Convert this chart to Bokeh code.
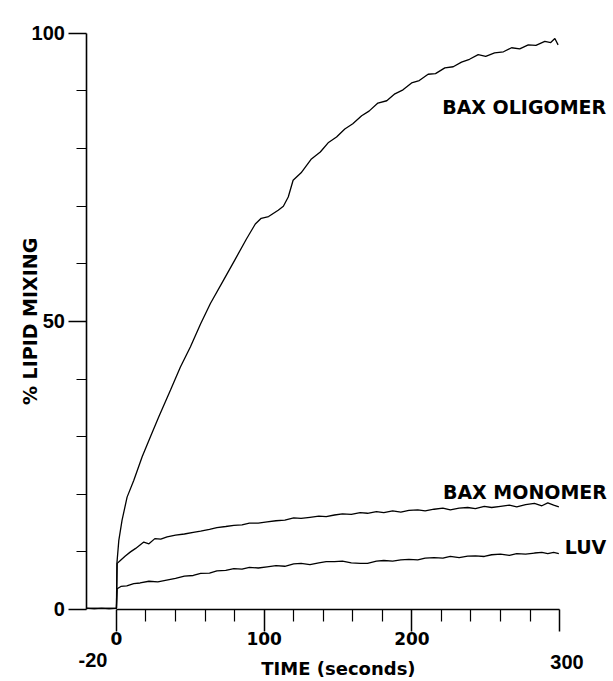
import math
from bokeh.plotting import figure
from bokeh.models import Range1d, FixedTicker, Label
from bokeh.embed import file_html
from bokeh.resources import INLINE

# ---------------- data ----------------
olig_t = [-20, -15, -10, -5, 0, 0.3, 1.6, 3.8, 7.2, 11.7, 17.4, 23, 28.6, 36.6, 43.3,
          50.1, 57, 63.6, 72.6, 80, 88, 94, 98, 103, 109.5, 113, 116.3, 119.6, 125,
          132, 138, 143.3, 149, 154.6, 160, 166, 171, 177, 183, 188.5, 194, 199.8,
          205, 211, 216, 222.3, 228, 233.6, 239, 244.9, 250, 256, 262, 267.5, 273,
          278.8, 284, 290, 294, 296.8, 299]
olig_y = [0.2, 0.1, 0.2, 0.1, 0.2, 8.0, 12.0, 15.5, 19.5, 22.4, 26.5, 30.0, 33.4, 38.1, 42.1,
          45.6, 49.6, 53.1, 57.2, 60.6, 64.3, 66.9, 67.9, 68.2, 69.3, 70.0, 71.6, 74.5, 75.8,
          78.2, 79.4, 81.0, 82.0, 83.4, 84.3, 85.7, 86.5, 87.9, 88.3, 89.5, 90.2, 91.4,
          91.8, 92.9, 93.0, 94.0, 94.2, 95.0, 95.5, 96.3, 96.0, 96.6, 96.8, 97.5, 97.3,
          98.0, 97.9, 98.6, 98.4, 99.1, 98.0]

mono_t = [-20, -10, 0, 0.5, 3, 6, 9.5, 13, 18.5, 22, 26, 30, 34.3, 40, 46, 52, 57, 63,
          68, 74, 79.5, 85, 90, 96, 102, 108, 114, 120, 125, 131, 137, 142, 147.6, 153,
          159, 165, 170, 176, 181, 187, 192.5, 198, 204, 209, 215, 221, 226, 232, 237.8,
          243, 249, 254, 260, 266, 271, 277, 283, 288, 292, 296, 299.5]
mono_y = [0.2, 0.2, 0.2, 8.0, 8.6, 9.3, 10.0, 10.6, 11.7, 11.4, 12.3, 12.2, 12.6, 12.9,
          13.1, 13.4, 13.6, 13.9, 14.2, 14.4, 14.6, 14.7, 15.0, 15.0, 15.2, 15.4, 15.5,
          15.9, 15.8, 16.0, 16.2, 16.1, 16.4, 16.6, 16.5, 16.8, 16.7, 17.0, 16.8, 17.1,
          16.9, 17.2, 17.3, 17.1, 17.4, 17.6, 17.3, 17.6, 17.7, 17.5, 17.9, 17.7, 17.9,
          18.1, 17.8, 18.2, 18.4, 18.0, 18.5, 18.1, 17.8]

luv_t = [-20, -10, 0, 0.5, 3, 7, 11.7, 16, 22, 28, 34, 40, 46, 52, 57, 63, 68, 74, 79.5,
         85, 90, 96, 102, 108, 114, 120, 125, 131, 137, 142, 147.6, 153, 159, 165, 170,
         176, 181, 187, 192.5, 198, 204, 209, 215, 221, 226, 232, 237.8, 243, 249, 254,
         260, 266, 271, 277, 283, 288, 292, 296, 299.5]
luv_y = [0.2, 0.2, 0.2, 3.6, 4.0, 4.1, 4.5, 4.6, 4.9, 4.8, 5.1, 5.4, 5.8, 5.9, 6.25, 6.3,
         6.7, 6.8, 7.1, 7.0, 7.3, 7.2, 7.4, 7.6, 7.5, 7.9, 8.0, 7.8, 8.1, 8.3, 8.3, 8.4,
         8.1, 8.0, 8.0, 8.4, 8.5, 8.4, 8.6, 8.7, 8.6, 8.9, 9.0, 8.9, 9.2, 9.0, 9.25, 9.3,
         9.2, 9.5, 9.6, 9.4, 9.7, 9.6, 9.8, 9.9, 9.7, 9.9, 9.7]

series_names = ["BAX OLIGOMER", "BAX MONOMER", "LUV"]

x_major = [0, 100, 200, 300]
x_major_text = ["0", "100", "200", ""]
x_minor = [20, 40, 60, 80, 120, 140, 160, 180, 220, 240, 260, 280]
x_end_labels = ["-20", "300"]
x_title = "TIME (seconds)"

y_major = [0, 50, 100]
y_major_text = ["0", "50", "100"]
y_minor = [10, 20, 30, 40, 60, 70, 80, 90]
y_title = "% LIPID MIXING"

# ---------------- figure ----------------
# The frame fills the whole canvas; the axes are pinned with fixed_location
# so that the free text around the plot is not clipped.
p = figure(width=613, height=681, title=None,
           x_range=Range1d(-78.5, 336.5), y_range=Range1d(-12.5, 105.7),
           output_backend="svg", toolbar_location=None,
           min_border_left=0, min_border_right=0,
           min_border_top=0, min_border_bottom=0)
p.grid.visible = False
p.outline_line_color = None
p.background_fill_color = "white"
p.border_fill_color = "white"

xa = p.xaxis[0]
xa.fixed_location = 0
xa.ticker = FixedTicker(ticks=x_major, minor_ticks=x_minor)
xa.bounds = (0, 300)
xa.major_label_overrides = {v: t for v, t in zip(x_major, x_major_text)}
xa.axis_line_width = 1.6
xa.axis_line_color = "black"
xa.major_tick_line_width = 1.5
xa.minor_tick_line_width = 1.2
xa.major_tick_line_color = "black"
xa.minor_tick_line_color = "black"
xa.major_tick_in = 0
xa.major_tick_out = 22
xa.minor_tick_in = 0
xa.minor_tick_out = 12
xa.major_label_standoff = 1
xa.major_label_text_font = "DejaVu Sans"
xa.major_label_text_font_style = "bold"
xa.major_label_text_font_size = "17px"
xa.major_label_text_color = "black"

ya = p.yaxis[0]
ya.fixed_location = -20
ya.ticker = FixedTicker(ticks=y_major, minor_ticks=y_minor)
ya.bounds = (0, 100)
ya.major_label_overrides = {v: t for v, t in zip(y_major, y_major_text)}
ya.axis_line_width = 1.6
ya.axis_line_color = "black"
ya.major_tick_line_width = 1.5
ya.minor_tick_line_width = 1.2
ya.major_tick_line_color = "black"
ya.minor_tick_line_color = "black"
ya.major_tick_in = 0
ya.major_tick_out = 18
ya.minor_tick_in = 0
ya.minor_tick_out = 10
ya.major_label_standoff = 4
ya.major_label_text_font = "Liberation Sans"
ya.major_label_text_font_style = "bold"
ya.major_label_text_font_size = "20px"
ya.major_label_text_color = "black"

for t, y in [(olig_t, olig_y), (mono_t, mono_y), (luv_t, luv_y)]:
    p.line(t, y, line_color="black", line_width=1.3)

def add_label(x, y, text, size, font="DejaVu Sans", align="left", angle=0.0):
    p.add_layout(Label(x=x, y=y, text=text, text_font=font, text_font_style="bold",
                       text_font_size=size, text_align=align,
                       text_baseline="alphabetic", text_color="black", angle=angle))

# series labels
add_label(220.5, 87.2, series_names[0], "19px")
add_label(221.0, 20.4, series_names[1], "19px")
add_label(303.5, 10.8, series_names[2], "19px")

# axis end labels and titles
add_label(-15.9, -8.85, x_end_labels[0], "20px", font="Liberation Sans", align="center")
add_label(305.0, -9.15, x_end_labels[1], "20px", font="Liberation Sans", align="center")
add_label(150.3, -10.2, x_title, "18px", align="center")
add_label(-58.2, 50.0, y_title, "19px", align="center", angle=math.pi / 2)

open("out.html", "w").write(file_html(p, INLINE))
